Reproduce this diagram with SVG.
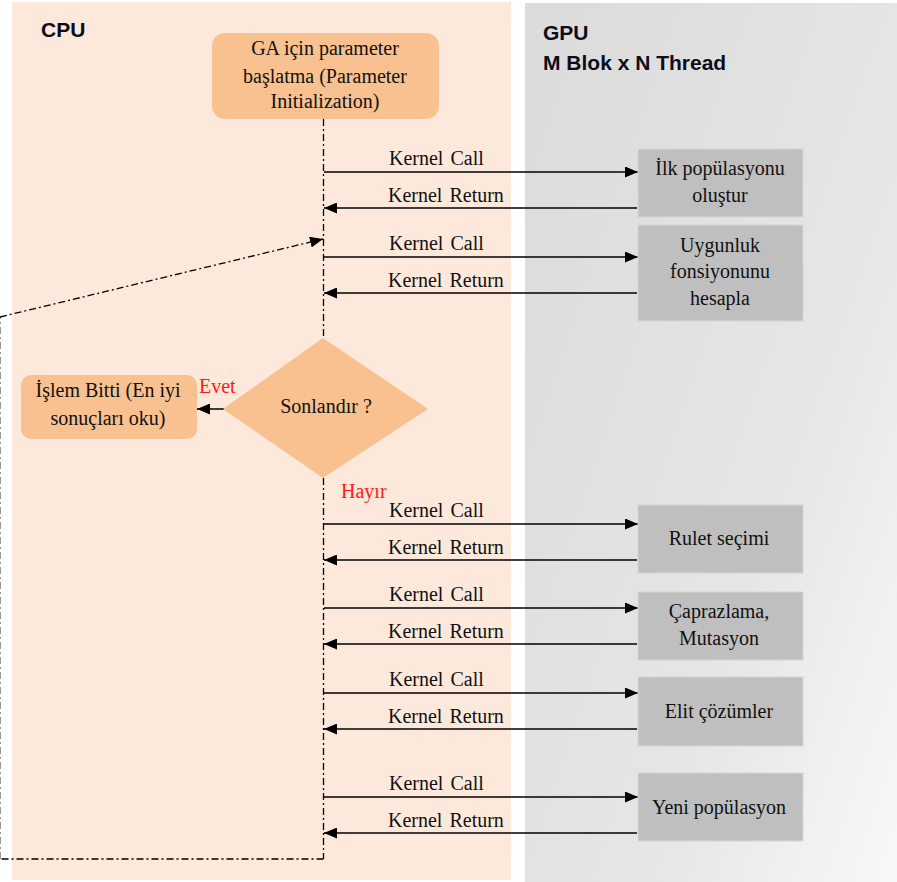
<svg xmlns="http://www.w3.org/2000/svg" width="897" height="882" viewBox="0 0 897 882">
<defs>
<linearGradient id="gpuGrad" x1="0" y1="0.2" x2="1" y2="1">
<stop offset="0" stop-color="#DCDCDC"/>
<stop offset="0.6" stop-color="#E6E6E6"/>
<stop offset="1" stop-color="#F8F8F8"/>
</linearGradient>
<marker id="arr" markerWidth="13" markerHeight="11" refX="13" refY="5.5" orient="auto" markerUnits="userSpaceOnUse">
<path d="M0,0 L13,5.5 L0,11 Z" fill="#000"/>
</marker>
</defs>
<style>
.serif{font-family:"Liberation Serif","Times New Roman",serif;font-size:20px;fill:#111}
.head{font-family:"Liberation Sans",Arial,sans-serif;font-size:21px;font-weight:bold;fill:#0d0d1a}
.lbl{font-family:"Liberation Serif","Times New Roman",serif;font-size:20px;fill:#111;word-spacing:2px}
.red{font-family:"Liberation Serif","Times New Roman",serif;font-size:20px;fill:#FF1a1a}
.orange{fill:#F8C18F}
.gbox{fill:#BFBFBF;stroke:#D6D6D6;stroke-width:1}
.msg{stroke:#000;stroke-width:1.5;fill:none}
.dd{stroke:#000;stroke-width:1.3;fill:none;stroke-dasharray:7 3 2 3}
</style>
<!-- panels -->
<rect x="12" y="2" width="499" height="878" fill="#FCE9DB"/>
<rect x="525" y="3" width="372" height="879" fill="url(#gpuGrad)"/>
<text class="head" x="41" y="37">CPU</text>
<text class="head" x="543" y="40">GPU</text>
<text class="head" x="543" y="70">M Blok x N Thread</text>

<g id="connectors">
<line class="dd" x1="323.5" y1="119" x2="323.5" y2="338"/>
<line class="dd" x1="323.5" y1="478" x2="323.5" y2="859"/>
<polyline class="dd" points="323.5,859 0.5,859"/>
<line x1="0.5" y1="859" x2="0.5" y2="317" stroke="#999" stroke-width="1" stroke-dasharray="7 3 2 3"/>
<line class="dd" x1="0" y1="317" x2="323" y2="239" marker-end="url(#arr)"/>
<line class="msg" x1="224" y1="409" x2="197" y2="409" marker-end="url(#arr)"/>

<line class="msg" x1="324" y1="172" x2="638" y2="172" marker-end="url(#arr)"/>
<line class="msg" x1="637" y1="208" x2="324" y2="208" marker-end="url(#arr)"/>
<line class="msg" x1="324" y1="257" x2="638" y2="257" marker-end="url(#arr)"/>
<line class="msg" x1="637" y1="293" x2="324" y2="293" marker-end="url(#arr)"/>
<line class="msg" x1="324" y1="524" x2="638" y2="524" marker-end="url(#arr)"/>
<line class="msg" x1="637" y1="560" x2="324" y2="560" marker-end="url(#arr)"/>
<line class="msg" x1="324" y1="608" x2="638" y2="608" marker-end="url(#arr)"/>
<line class="msg" x1="637" y1="644" x2="324" y2="644" marker-end="url(#arr)"/>
<line class="msg" x1="324" y1="693" x2="638" y2="693" marker-end="url(#arr)"/>
<line class="msg" x1="637" y1="729" x2="324" y2="729" marker-end="url(#arr)"/>
<line class="msg" x1="324" y1="797" x2="638" y2="797" marker-end="url(#arr)"/>
<line class="msg" x1="637" y1="833" x2="324" y2="833" marker-end="url(#arr)"/>

<text class="lbl" x="389" y="165">Kernel Call</text>
<text class="lbl" x="388" y="202">Kernel Return</text>
<text class="lbl" x="389" y="250">Kernel Call</text>
<text class="lbl" x="388" y="287">Kernel Return</text>
<text class="lbl" x="389" y="517">Kernel Call</text>
<text class="lbl" x="388" y="554">Kernel Return</text>
<text class="lbl" x="389" y="601">Kernel Call</text>
<text class="lbl" x="388" y="638">Kernel Return</text>
<text class="lbl" x="389" y="686">Kernel Call</text>
<text class="lbl" x="388" y="723">Kernel Return</text>
<text class="lbl" x="389" y="790">Kernel Call</text>
<text class="lbl" x="388" y="827">Kernel Return</text>
<text class="red" x="199" y="393">Evet</text>
<text class="red" x="341" y="498">Hayır</text>
</g>

<g id="ga-init">
<rect class="orange" x="212" y="33" width="227" height="86" rx="13"/>
<text class="serif" text-anchor="middle" x="325" y="55">GA için parameter</text>
<text class="serif" text-anchor="middle" x="325" y="83">başlatma  (Parameter</text>
<text class="serif" text-anchor="middle" x="325" y="108">Initialization)</text>
</g>

<g id="sonlandir">
<polygon class="orange" points="323,338 428,409 323,478 223,409"/>
<text class="serif" text-anchor="middle" x="326" y="413">Sonlandır ?</text>
</g>

<g id="islem-bitti">
<rect class="orange" x="21" y="375" width="176" height="64" rx="10"/>
<text class="serif" text-anchor="middle" x="108" y="397">İşlem Bitti (En iyi</text>
<text class="serif" text-anchor="middle" x="108" y="425">sonuçları oku)</text>
</g>

<g id="ilk-populasyon">
<rect class="gbox" x="638" y="149" width="165" height="68"/>
<text class="serif" text-anchor="middle" x="720" y="175">İlk popülasyonu</text>
<text class="serif" text-anchor="middle" x="720" y="202">oluştur</text>
</g>

<g id="uygunluk">
<rect class="gbox" x="638" y="225" width="165" height="96"/>
<text class="serif" text-anchor="middle" x="720" y="252">Uygunluk</text>
<text class="serif" text-anchor="middle" x="720" y="278">fonsiyonunu</text>
<text class="serif" text-anchor="middle" x="720" y="305">hesapla</text>
</g>

<g id="rulet">
<rect class="gbox" x="638" y="505" width="165" height="68"/>
<text class="serif" text-anchor="middle" x="719" y="545">Rulet seçimi</text>
</g>

<g id="caprazlama">
<rect class="gbox" x="638" y="592" width="165" height="68"/>
<text class="serif" text-anchor="middle" x="719" y="618">Çaprazlama,</text>
<text class="serif" text-anchor="middle" x="719" y="645">Mutasyon</text>
</g>

<g id="elit">
<rect class="gbox" x="638" y="677" width="165" height="69"/>
<text class="serif" text-anchor="middle" x="719" y="718">Elit çözümler</text>
</g>

<g id="yeni-populasyon">
<rect class="gbox" x="638" y="773" width="165" height="68"/>
<text class="serif" text-anchor="middle" x="719" y="814">Yeni popülasyon</text>
</g>
</svg>
